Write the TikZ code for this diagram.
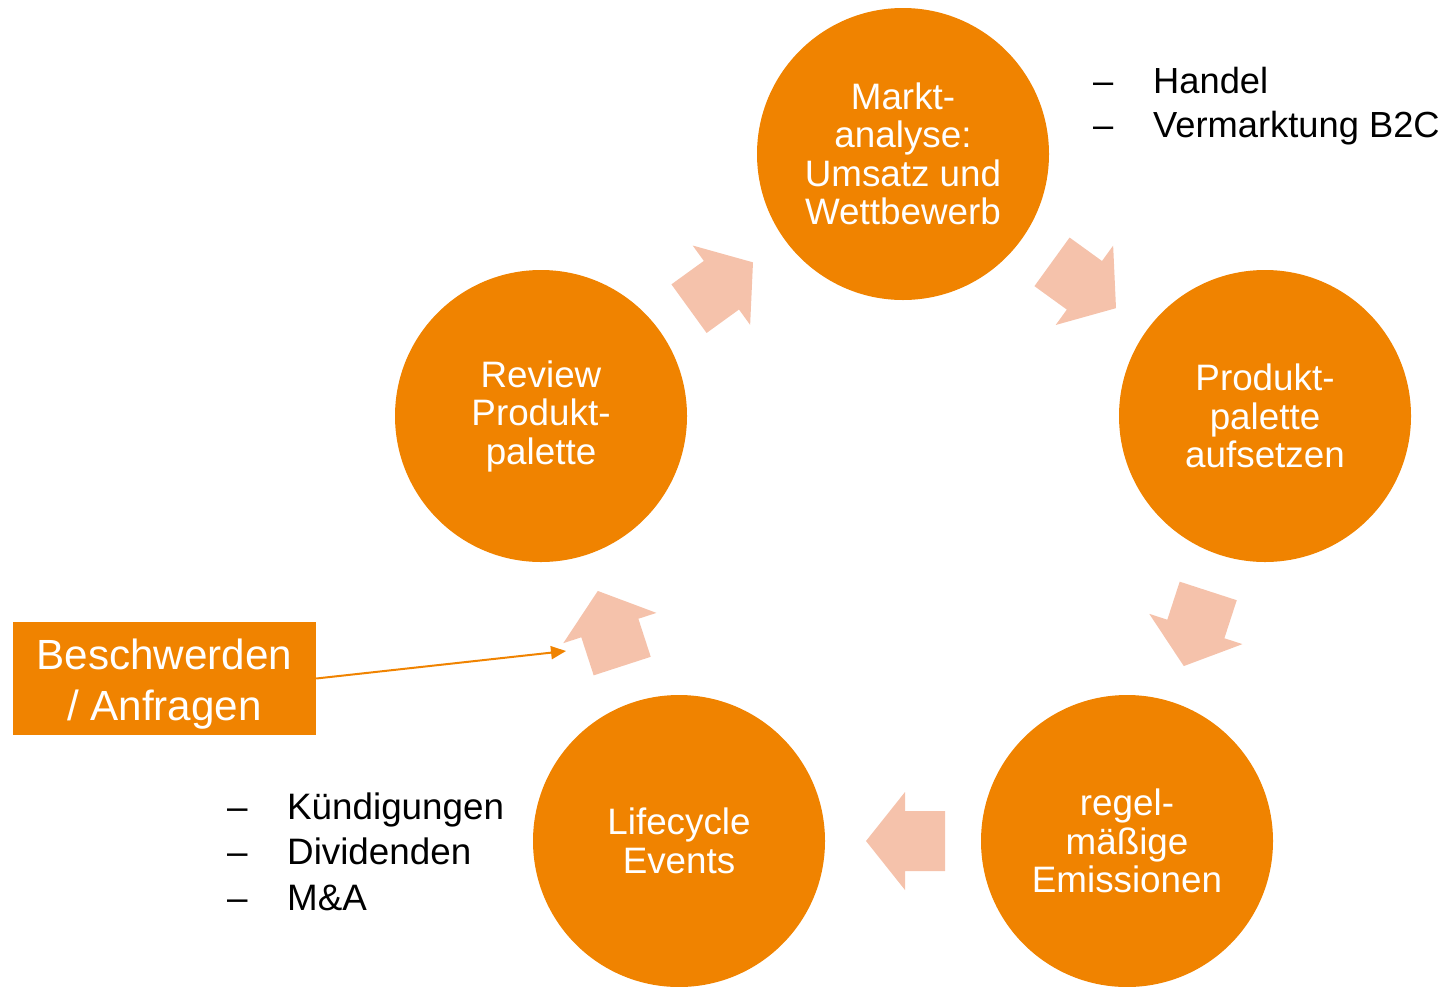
\documentclass[tikz,border=0pt]{standalone}
\usepackage{fontspec}
\setmainfont{Liberation Sans}
\usetikzlibrary{arrows.meta}
\definecolor{orng}{HTML}{F08300}
\definecolor{salmon}{HTML}{F5C2AB}
\tikzset{
  stage/.style={circle, fill=orng, minimum size=292pt, inner sep=0pt, text=white, align=center,
    font=\fontsize{36.8}{38.5}\selectfont},
  cycarrow/.pic={\fill[salmon] (-39.5,-30) -- (0.5,-30) -- (0.5,-49) -- (39.5,0) -- (0.5,49) -- (0.5,30) -- (-39.5,30) -- cycle;},
  bullets/.style={anchor=north west, inner sep=0pt, align=left},
  callout/.style={rectangle, fill=orng, minimum width=303pt, minimum height=113pt, inner sep=0pt},
  callouttext/.style={inner sep=0pt, text=white, align=center, font=\fontsize{42.2}{51}\selectfont},
  link/.style={draw=orng, line width=2pt, -{Triangle[length=15pt,width=13pt]}}
}
\begin{document}
\begin{tikzpicture}[x=1pt,y=-1pt]
\useasboundingbox (0,0) rectangle (1453,986);
% stages
\node[stage] (markt) at (903,154) {Markt-\\analyse:\\Umsatz und\\Wettbewerb};
\node[stage] (produkt) at (1265,416) {Produkt-\\palette\\aufsetzen};
\node[stage] (regel) at (1127,841) {regel-\\mäßige\\Emissionen};
\node[stage] (life) at (679,841) {Lifecycle\\Events};
\node[stage] (review) at (541,416) {Review\\Produkt-\\palette};
% cycle arrows
\pic[rotate=35.9] at (721,285.5) {cycarrow};
\pic[rotate=-35.9] at (1084,285) {cycarrow};
\pic[rotate=-108] at (1196,628.5) {cycarrow};
\pic[rotate=180] at (905.5,841) {cycarrow};
\pic[rotate=108] at (610,628.5) {cycarrow};
% bullet lists
\node[bullets] (listtop) at (1093,62) {\fontsize{36.3}{44}\selectfont
  \begin{tabular}{@{}p{60pt}@{}l@{}}–&Handel\\–&Vermarktung B2C\end{tabular}};
\node[bullets] (listleft) at (227,787) {\fontsize{36.8}{45.5}\selectfont
  \begin{tabular}{@{}p{60pt}@{}l@{}}–&Kündigungen\\–&Dividenden\\–&M\&A\end{tabular}};
% callout
\node[callout] (besch) at (164.5,678.5) {};
\node[callouttext] (beschtext) at ([yshift=-6pt]besch.center) {Beschwerden\\/ Anfragen};
\coordinate (target) at (566,651);
\draw[link] (besch.east) -- (target);
\end{tikzpicture}
\end{document}
